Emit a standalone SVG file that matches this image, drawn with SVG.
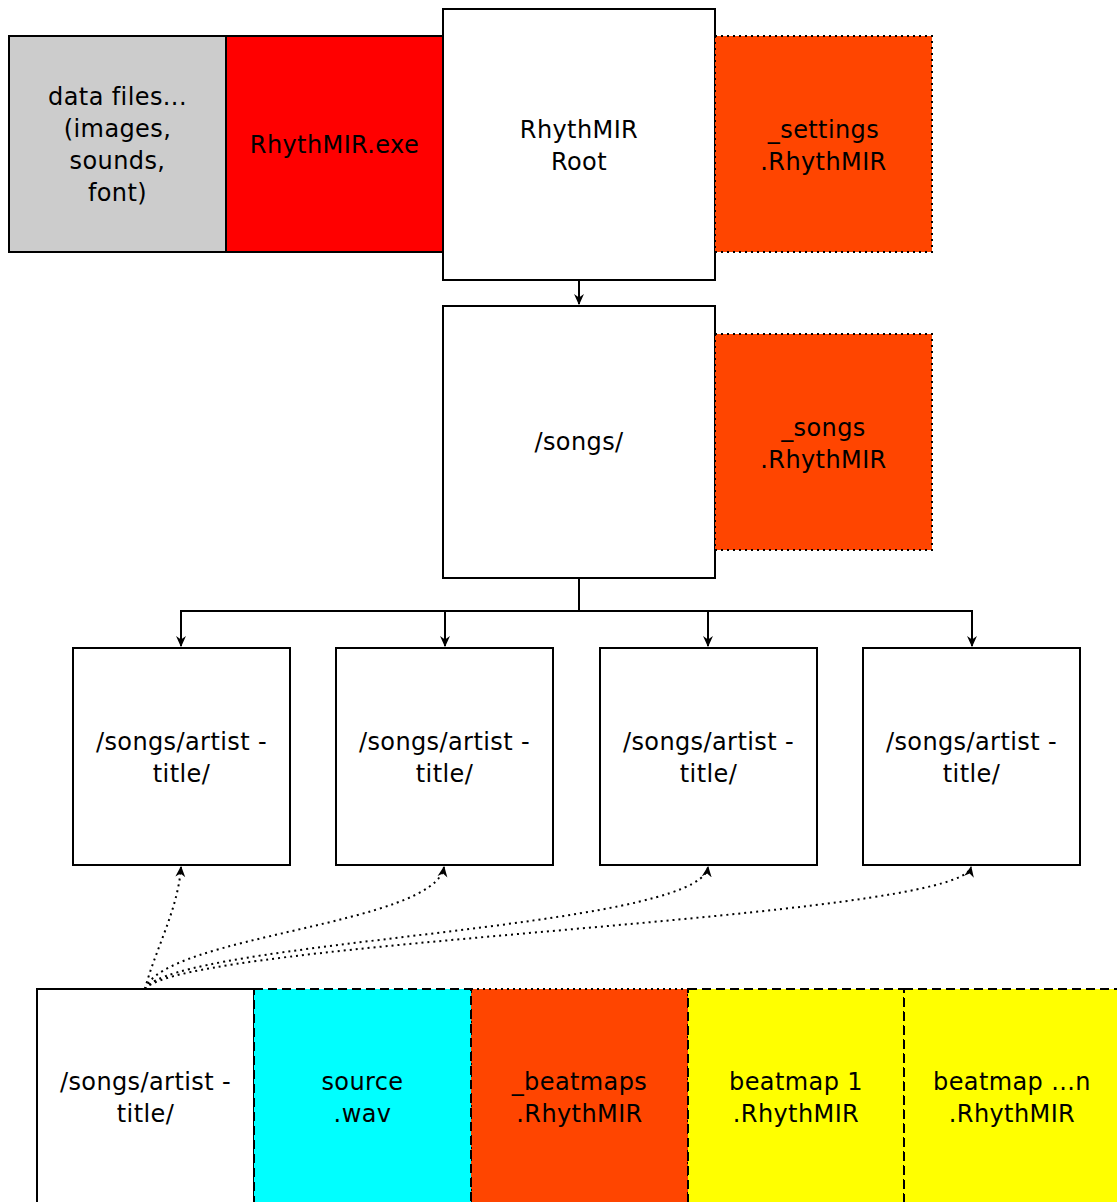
<svg xmlns="http://www.w3.org/2000/svg" width="1117" height="1202" viewBox="0 0 1117 1202">
<defs>
<style>
.box{stroke:#000;stroke-width:2}
.dot{stroke-dasharray:2 4}
.dash{stroke-dasharray:9 5}
text{font-family:"DejaVu Sans","Noto Sans",sans-serif;font-size:24px;letter-spacing:0.4px;fill:#000;text-anchor:middle}
.edge{fill:none;stroke:#000;stroke-width:2}
.dotted{stroke-dasharray:2 4;stroke-width:2}
</style>
<marker id="arr" viewBox="0 0 10 10" refX="9" refY="5" markerWidth="11" markerHeight="11" markerUnits="userSpaceOnUse" orient="auto">
<path d="M0,0.5 L10,5 L0,9.5 L3,5 Z" fill="#000"/>
</marker>
</defs>
<rect width="1117" height="1202" fill="#fff"/>

<g id="data-files">
<rect class="box" x="9" y="36" width="217" height="216" fill="#cccccc"/>
<text x="117.5" y="105">data files...</text>
<text x="117.5" y="137">(images,</text>
<text x="117.5" y="169">sounds,</text>
<text x="117.5" y="201">font)</text>
</g>
<g id="exe">
<rect class="box" x="226" y="36" width="217" height="216" fill="#ff0000"/>
<text x="334.5" y="153">RhythMIR.exe</text>
</g>
<g id="root">
<rect class="box" x="443" y="9" width="272" height="271" fill="#fff"/>
<text x="579" y="138">RhythMIR</text>
<text x="579" y="170">Root</text>
</g>
<g id="settings">
<rect class="box dot" x="715" y="36" width="217" height="216" fill="#ff4500"/>
<text x="823.5" y="138">_settings</text>
<text x="823.5" y="170">.RhythMIR</text>
</g>
<g id="songs">
<rect class="box" x="443" y="306" width="272" height="272" fill="#fff"/>
<text x="579" y="450">/songs/</text>
</g>
<g id="songs-file">
<rect class="box dot" x="715" y="334" width="217" height="216" fill="#ff4500"/>
<text x="823.5" y="436">_songs</text>
<text x="823.5" y="468">.RhythMIR</text>
</g>

<g id="song1">
<rect class="box" x="73" y="648" width="217" height="217" fill="#fff"/>
<text x="181.5" y="750">/songs/artist -</text>
<text x="181.5" y="782">title/</text>
</g>
<g id="song2">
<rect class="box" x="336" y="648" width="217" height="217" fill="#fff"/>
<text x="444.5" y="750">/songs/artist -</text>
<text x="444.5" y="782">title/</text>
</g>
<g id="song3">
<rect class="box" x="600" y="648" width="217" height="217" fill="#fff"/>
<text x="708.5" y="750">/songs/artist -</text>
<text x="708.5" y="782">title/</text>
</g>
<g id="song4">
<rect class="box" x="863" y="648" width="217" height="217" fill="#fff"/>
<text x="971.5" y="750">/songs/artist -</text>
<text x="971.5" y="782">title/</text>
</g>

<g id="song-detail">
<rect class="box" x="37" y="989" width="217" height="220" fill="#fff"/>
<text x="145.5" y="1090">/songs/artist -</text>
<text x="145.5" y="1122">title/</text>
</g>
<g id="beatmaps">
<rect class="box dot" x="471" y="989" width="217" height="220" fill="#ff4500"/>
<text x="579.5" y="1090">_beatmaps</text>
<text x="579.5" y="1122">.RhythMIR</text>
</g>
<g id="source">
<rect class="box dash" x="254" y="989" width="217" height="220" fill="#00ffff"/>
<text x="362.5" y="1090">source</text>
<text x="362.5" y="1122">.wav</text>
</g>
<g id="beatmap1">
<rect class="box dash" x="688" y="989" width="216" height="220" fill="#ffff00"/>
<text x="796" y="1090">beatmap 1</text>
<text x="796" y="1122">.RhythMIR</text>
</g>
<g id="beatmapn">
<rect class="box dash" x="904" y="989" width="216" height="220" fill="#ffff00"/>
<text x="1012" y="1090">beatmap ...n</text>
<text x="1012" y="1122">.RhythMIR</text>
</g>

<g id="connectors">
<path class="edge" d="M579,280 L579,304" marker-end="url(#arr)"/>
<path class="edge" d="M579,578 L579,611 M180,611 L973,611"/>
<path class="edge" d="M181,611 L181,646" marker-end="url(#arr)"/>
<path class="edge" d="M445,611 L445,646" marker-end="url(#arr)"/>
<path class="edge" d="M708,611 L708,646" marker-end="url(#arr)"/>
<path class="edge" d="M972,611 L972,646" marker-end="url(#arr)"/>
<path class="edge dotted" d="M145,989 C155,950 178,910 181,867" marker-end="url(#arr)"/>
<path class="edge dotted" d="M145,989 C165,935 435,925 444,867" marker-end="url(#arr)"/>
<path class="edge dotted" d="M145,989 C175,940 700,930 708,867" marker-end="url(#arr)"/>
<path class="edge dotted" d="M145,989 C185,940 960,920 971,867" marker-end="url(#arr)"/>
</g>
</svg>
